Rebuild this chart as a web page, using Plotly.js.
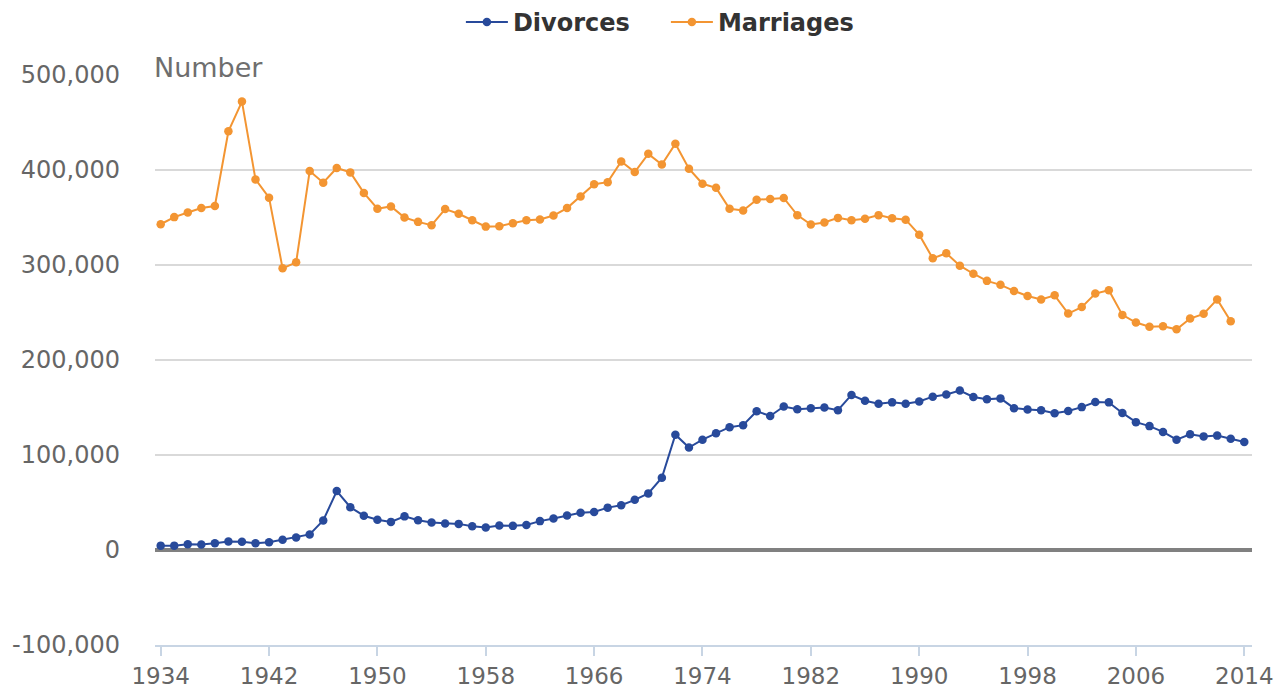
<!DOCTYPE html>
<html>
<head>
<meta charset="utf-8">
<script src="https://cdn.plot.ly/plotly-3.0.1.min.js"></script>
<style>
  html, body { margin: 0; padding: 0; background: #fff; }
  #chart { width: 1288px; height: 691px; }
</style>
</head>
<body>
<div id="chart"></div>
<script>
const divorceYears = [
  1934,1935,1936,1937,1938,1939,1940,1941,1942,1943,
  1944,1945,1946,1947,1948,1949,1950,1951,1952,1953,
  1954,1955,1956,1957,1958,1959,1960,1961,1962,1963,
  1964,1965,1966,1967,1968,1969,1970,1971,1972,1973,
  1974,1975,1976,1977,1978,1979,1980,1981,1982,1983,
  1984,1985,1986,1987,1988,1989,1990,1991,1992,1993,
  1994,1995,1996,1997,1998,1999,2000,2001,2002,2003,
  2004,2005,2006,2007,2008,2009,2010,2011,2012,2013,
  2014
];
const divorces = [
  4600,4600,6100,5700,7100,8900,8600,7100,8200,10700,
  13200,16400,31100,62100,45000,36100,31800,29600,35400,31400,
  28900,27900,27500,25000,23600,25700,25400,26400,30400,33200,
  36400,39300,40000,44600,47100,52800,59600,76100,121400,107900,
  116100,122900,129300,131400,146100,141100,151100,148200,149300,150000,
  147100,163200,157100,153900,155400,153900,156400,161400,163600,167900,
  161100,158600,159600,149300,147900,147100,143900,146400,150400,155700,
  155400,144300,134600,130400,124300,116100,121800,119600,120400,117100,
  113600
];
const marriageYears = [
  1934,1935,1936,1937,1938,1939,1940,1941,1942,1943,
  1944,1945,1946,1947,1948,1949,1950,1951,1952,1953,
  1954,1955,1956,1957,1958,1959,1960,1961,1962,1963,
  1964,1965,1966,1967,1968,1969,1970,1971,1972,1973,
  1974,1975,1976,1977,1978,1979,1980,1981,1982,1983,
  1984,1985,1986,1987,1988,1989,1990,1991,1992,1993,
  1994,1995,1996,1997,1998,1999,2000,2001,2002,2003,
  2004,2005,2006,2007,2008,2009,2010,2011,2012,2013
];
const marriages = [
  342900,350400,355300,360000,362100,440800,472000,390100,370900,296500,
  302800,398900,386600,402100,397500,375900,359200,361700,350000,345400,
  341900,358900,353900,347200,340400,340800,344000,347200,348000,352100,
  359900,372000,385100,387200,408900,397900,417000,405700,427700,401400,
  385500,381200,359200,357400,368800,369500,370600,352500,342600,344700,
  349600,347200,348600,352500,349300,347700,331900,307000,312400,299300,
  290800,283300,279100,272700,267400,263800,268100,248900,255700,269900,
  273400,247500,239400,235100,235500,232300,243600,248600,263800,240800
];
const xTickVals = [1934,1942,1950,1958,1966,1974,1982,1990,1998,2006,2014];
const xTickText = ["1934","1942","1950","1958","1966","1974","1982","1990","1998","2006","2014"];
const yTickVals = [-100000,0,100000,200000,300000,400000,500000];
const yTickText = ["-100,000","0","100,000","200,000","300,000","400,000","500,000"];

const FONT = "DejaVu Sans, Verdana, sans-serif";
const BLUE = "#284a9b";
const ORANGE = "#f39532";

const traces = [
  {
    type: "scatter", mode: "lines+markers", name: "Divorces",
    x: divorceYears, y: divorces,
    line: { color: BLUE, width: 2 },
    marker: { color: BLUE, size: 8.5 }
  },
  {
    type: "scatter", mode: "lines+markers", name: "Marriages",
    x: marriageYears, y: marriages,
    line: { color: ORANGE, width: 2 },
    marker: { color: ORANGE, size: 8.5 }
  }
];

const layout = {
  width: 1288, height: 691,
  margin: { l: 155, r: 36, t: 75, b: 46, pad: 0 },
  paper_bgcolor: "#ffffff", plot_bgcolor: "#ffffff",
  font: { family: FONT, color: "#666666", size: 24 },
  showlegend: true,
  legend: {
    orientation: "h", xref: "container", yref: "container",
    x: 0.517, xanchor: "center", y: 1.0, yanchor: "top",
    font: { family: FONT, size: 24, color: "#333333", weight: "bold" },
    entrywidth: 148, entrywidthmode: "pixels",
    itemwidth: 42, tracegroupgap: 0
  },
  xaxis: {
    range: [1933.58, 2014.57],
    tickmode: "array", tickvals: xTickVals, ticktext: xTickText,
    showgrid: false, zeroline: false,
    showline: true, linecolor: "#c8d5e4", linewidth: 2,
    ticks: "outside", ticklen: 9, tickwidth: 2, tickcolor: "#c8d5e4",
    tickfont: { family: FONT, size: 23, color: "#666666" },
    fixedrange: true
  },
  yaxis: {
    range: [-100000, 500000],
    tickmode: "array", tickvals: yTickVals, ticktext: yTickText,
    showgrid: true, gridcolor: "#d9d9d9", gridwidth: 2,
    zeroline: true, zerolinecolor: "#808080", zerolinewidth: 4,
    showline: false, ticks: "",
    ticklabelstandoff: 34,
    tickfont: { family: FONT, size: 24, color: "#666666" },
    fixedrange: true
  },
  annotations: [
    {
      text: "Number", xref: "paper", yref: "paper",
      x: 0, y: 1, xanchor: "left", yanchor: "bottom", yshift: -10, xshift: -3,
      showarrow: false,
      font: { family: FONT, size: 27, color: "#6e6e6e" }
    }
  ]
};

Plotly.newPlot("chart", traces, layout, { displayModeBar: false, staticPlot: true });
</script>
</body>
</html>
